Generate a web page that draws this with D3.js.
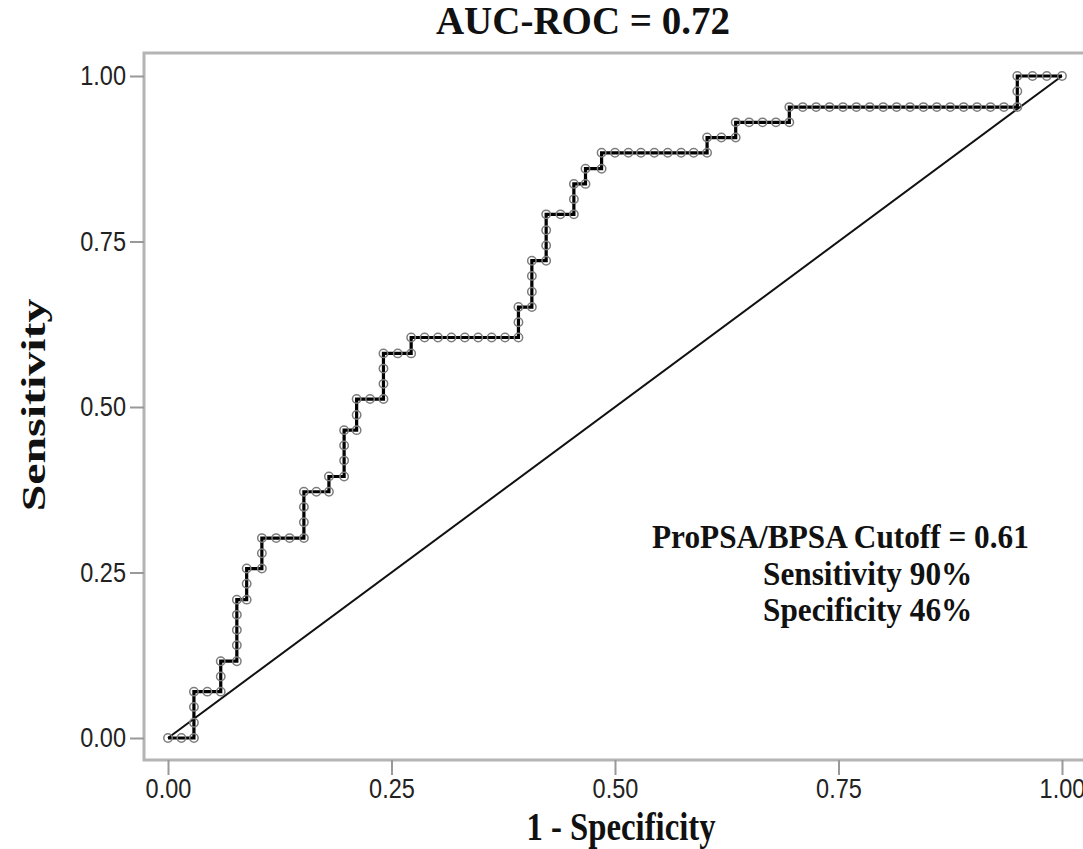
<!DOCTYPE html>
<html>
<head>
<meta charset="utf-8">
<script src="https://cdn.jsdelivr.net/npm/d3@7"></script>
<style>
  body { margin: 0; background: #fff; }
  svg { display: block; }
  .serif { font-family: "Liberation Serif", "Times New Roman", serif; font-weight: bold; fill: #111; }
  .tick text { font-family: "Liberation Sans", Arial, sans-serif; font-size: 28px; fill: #222; }
  .tick line { stroke: #999; stroke-width: 2; }
</style>
</head>
<body>
<svg width="1083" height="849"></svg>
<script>
// ROC points (1 - specificity, sensitivity)
const fpr = [0, .015, .029, .029, .029, .029, .044, .059, .059, .059,
  .077, .077, .077, .077, .077, .088, .088, .088, .105, .105,
  .105, .121, .136, .152, .152, .152, .152, .166, .180, .180,
  .197, .197, .197, .197, .211, .211, .211, .226, .241, .241,
  .241, .241, .257, .272, .272, .287, .302, .317, .332, .347,
  .362, .377, .392, .392, .392, .407, .407, .407, .407, .423,
  .423, .423, .423, .439, .454, .454, .454, .467, .467, .485,
  .485, .500, .515, .529, .544, .559, .574, .588, .603, .603,
  .619, .635, .635, .650, .665, .680, .695, .695, .710, .725,
  .740, .755, .770, .785, .800, .815, .830, .845, .860, .875,
  .890, .905, .920, .935, .950, .950, .950, .967, .983, 1];
const tpr = [0, 0, 0, .023, .047, .070, .070, .070, .093, .116,
  .116, .140, .163, .186, .209, .209, .233, .256, .256, .279,
  .302, .302, .302, .302, .326, .349, .372, .372, .372, .395,
  .395, .419, .442, .465, .465, .488, .512, .512, .512, .535,
  .558, .581, .581, .581, .605, .605, .605, .605, .605, .605,
  .605, .605, .605, .628, .651, .651, .674, .698, .721, .721,
  .744, .767, .791, .791, .791, .814, .837, .837, .860, .860,
  .884, .884, .884, .884, .884, .884, .884, .884, .884, .907,
  .907, .907, .930, .930, .930, .930, .930, .953, .953, .953,
  .953, .953, .953, .953, .953, .953, .953, .953, .953, .953,
  .953, .953, .953, .953, .953, .977, 1, 1, 1, 1];
const tickVals = [0, 0.25, 0.5, 0.75, 1];
const chartTitle = 'AUC-ROC = 0.72';
const notes = ['ProPSA/BPSA Cutoff = 0.61', 'Sensitivity 90%', 'Specificity 46%'];

const svg = d3.select('svg');
const x = d3.scaleLinear().domain([0, 1]).range([168, 1062]);
const y = d3.scaleLinear().domain([0, 1]).range([738, 76]);
const squeeze = 0.84;

const pts = fpr.map((f, i) => ({ f: f, t: tpr[i] }));

// panel frame
svg.append('path')
  .attr('d', 'M1100,53H144V760H1100')
  .attr('fill', 'none')
  .attr('stroke', '#b4b4b4')
  .attr('stroke-width', 3);

svg.append('g')
  .attr('transform', 'translate(0,760)')
  .call(d3.axisBottom(x).tickValues(tickVals).tickSize(15).tickPadding(3).tickFormat(d3.format('.2f')))
  .call(g => g.select('.domain').remove())
  .call(g => g.selectAll('.tick text').attr('transform', `scale(${squeeze},1)`));

svg.append('g')
  .attr('transform', 'translate(144,0)')
  .call(d3.axisLeft(y).tickValues(tickVals).tickSize(14).tickPadding(4).tickFormat(d3.format('.2f')))
  .call(g => g.select('.domain').remove())
  .call(g => g.selectAll('.tick text')
    .attr('x', -18 / squeeze)
    .attr('transform', `scale(${squeeze},1)`));

// chance line
svg.append('line')
  .attr('x1', x(0)).attr('y1', y(0))
  .attr('x2', x(1)).attr('y2', y(1))
  .attr('stroke', '#111')
  .attr('stroke-width', 2);

const line = d3.line().x(d => x(d.f)).y(d => y(d.t));

svg.append('path')
  .datum(pts)
  .attr('d', line)
  .attr('fill', 'none')
  .attr('stroke', '#000')
  .attr('stroke-width', 3.2);

svg.append('g').selectAll('circle')
  .data(pts)
  .enter()
  .append('circle')
  .attr('cx', d => x(d.f))
  .attr('cy', d => y(d.t))
  .attr('r', 4.2)
  .attr('fill', 'none')
  .attr('stroke', '#7c7c7c')
  .attr('stroke-width', 1.5);

function label(txt, tx, ty, size, sx, anchor, rot) {
  svg.append('text')
    .attr('class', 'serif')
    .attr('transform', `translate(${tx},${ty})` + (rot ? ` rotate(${rot})` : '') + ` scale(${sx},1)`)
    .attr('text-anchor', anchor)
    .attr('font-size', size)
    .text(txt);
}

label(chartTitle, 583, 34, 39, 1.0, 'middle');
label('1 - Specificity', 621, 840, 39, 0.84, 'middle');
label('Sensitivity', 45, 405, 33, 1.45, 'middle', -90);

label(notes[0], 652, 548, 34, 0.92, 'start');
notes.slice(1).forEach((d, i) => label(d, 763, 585 + i * 36, 34, 0.92, 'start'));
</script>
</body>
</html>
